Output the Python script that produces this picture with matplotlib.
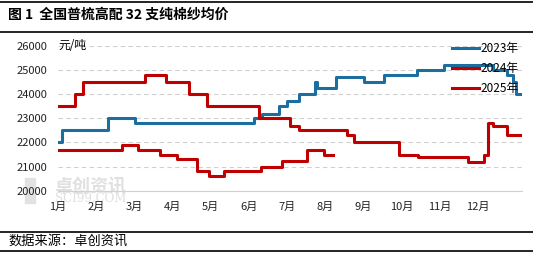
import matplotlib.pyplot as plt
from matplotlib.lines import Line2D

plt.rcParams['font.family'] = ['Noto Sans CJK SC', 'DejaVu Sans']

# x positions in month units (0 = start of Jan), prices in yuan/ton
x_2023 = [0.0, 0.09, 1.30, 2.01, 5.13, 5.35, 5.80, 6.00, 6.32, 6.74, 6.79,
          7.29, 8.02, 8.55, 9.42, 10.12, 11.41, 11.76, 11.92, 12.02, 12.16]
p_2023 = [22000, 22500, 23000, 22800, 23000, 23200, 23500, 23700, 24000, 24500, 24250,
          24700, 24500, 24800, 25000, 25200, 25000, 24800, 24500, 24000, 24000]

x_2024 = [0.0, 0.44, 0.65, 2.29, 2.84, 3.42, 3.91, 5.26, 6.07, 6.32, 7.57,
          7.76, 8.94, 9.45, 10.74, 11.16, 11.28, 11.41, 11.76, 12.16]
p_2024 = [23500, 24000, 24500, 24800, 24500, 24000, 23500, 23000, 22700, 22500, 22300,
          22000, 21500, 21400, 21200, 21500, 22800, 22700, 22300, 22300]

x_2025 = [0.0, 1.68, 2.09, 2.66, 3.12, 3.64, 3.95, 4.34, 5.32, 5.87, 6.52, 6.98, 7.22]
p_2025 = [21700, 21900, 21700, 21500, 21300, 20800, 20600, 20800, 21000, 21250, 21700, 21500, 21500]

months = [f'{i}月' for i in range(1, 13)]
series = [('2023年', x_2023, p_2023, '#1b6e9e'),
          ('2024年', x_2024, p_2024, '#c00000'),
          ('2025年', x_2025, p_2025, '#c00000')]

fig = plt.figure(figsize=(5.33, 2.54), dpi=100)
ax = fig.add_axes([0.109, 0.249, 0.870, 0.570])
ax.set_zorder(2)

# watermark
fig.patches.append(plt.Rectangle((25 / 533, 1 - 203 / 254), 10 / 533, 25 / 254,
                                 transform=fig.transFigure, color='#e2e2e2', zorder=0))
fig.text(54 / 533, 1 - 186 / 254, '卓创资讯', fontsize=13, color='#e0e0e0',
         weight='bold', va='center', zorder=0)
fig.text(55 / 533, 1 - 198 / 254, 'SCI99.COM', fontsize=8.5, color='#e0e0e0',
         family='DejaVu Serif', va='center', zorder=0)

for name, xs, ps, c in series:
    ax.plot(xs, ps, drawstyle='steps-post', color=c, lw=2.2, label=name, zorder=3)

ax.set_xlim(0, 12.16)
ax.set_ylim(20000, 26000)
ax.set_yticks(range(20000, 26001, 1000))
ax.set_xticks(range(12))
ax.set_xticklabels(months)
ax.tick_params(axis='both', length=0, labelsize=8, colors='#222222')
ax.tick_params(axis='x', pad=8)
ax.tick_params(axis='y', pad=8)
ax.grid(axis='y', color='#d0d0d0', ls=(0, (4, 3)), lw=0.8)
ax.set_axisbelow(True)
for s in ['top', 'right', 'left']:
    ax.spines[s].set_visible(False)
ax.spines['bottom'].set_color('#d0d0d0')
ax.patch.set_alpha(0)

ax.text(0.02, 26000, '元/吨', fontsize=8.5, va='center', ha='left')

handles = [Line2D([], [], color=c, lw=2.2) for _, _, _, c in series]
leg = ax.legend(handles, [s[0] for s in series], loc='upper left',
                bbox_to_anchor=(0.84, 1.06), frameon=False, fontsize=8.5,
                handlelength=2.3, handletextpad=0.1, labelspacing=0.6, borderaxespad=0)
leg.set_zorder(5)

# title and footer with rules
fig.add_artist(Line2D([0, 1], [1 - 2 / 254] * 2, color='black', lw=1.2))
fig.add_artist(Line2D([0, 1], [1 - 31.5 / 254] * 2, color='black', lw=1.2))
fig.text(8 / 533, 1 - 15 / 254, '图 1  全国普梳高配 32 支纯棉纱均价', fontsize=10,
         weight='bold', va='center', ha='left')
fig.add_artist(Line2D([0, 1], [1 - 231.5 / 254] * 2, color='black', lw=1.2))
fig.add_artist(Line2D([0, 1], [1 - 250.5 / 254] * 2, color='black', lw=1.2))
fig.text(8 / 533, 1 - 241 / 254, '数据来源：卓创资讯', fontsize=9.5, va='center', ha='left')

fig.savefig('out.png', dpi=100)
